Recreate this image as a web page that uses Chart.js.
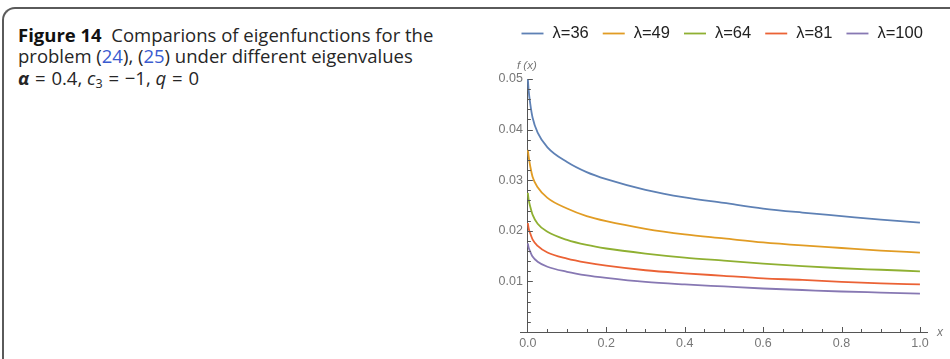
<!DOCTYPE html>
<html>
<head>
<meta charset="utf-8">
<script src="https://cdn.jsdelivr.net/npm/chart.js@4.4.1/dist/chart.umd.min.js"></script>
<style>
  html, body { margin: 0; padding: 0; background: #fff; }
  #wrap { position: relative; width: 950px; height: 359px; overflow: hidden; }
  #frame { position: absolute; left: 2px; top: 7px; width: 1000px; height: 420px;
           border-top: 2px solid #5a5a5a; border-left: 2px solid #5a5a5a; border-top-left-radius: 13px; }
  #cap { position: absolute; left: 18px; top: 23.5px; font-family: "Open Sans", sans-serif; font-size: 18.5px;
         line-height: 21.7px; color: #262626; white-space: nowrap; }
  #cap b.fig { font-weight: 700; color: #111; }
  #cap .l { color: #3a5bd0; }
  #cap sub { font-size: 12.5px; vertical-align: -3px; line-height: 0; }
  #cap .m { margin: 0 1px; }
  #chart { position: absolute; left: 0; top: 0; }
</style>
</head>
<body>
<div id="wrap">
  <div id="frame"></div>
  <div id="cap"><b class="fig">Figure 14</b>&nbsp; Comparions of eigenfunctions for the<br>problem (<span class="l">24</span>), (<span class="l">25</span>) under different eigenvalues<br><b><i>α</i></b><span class="m"> = </span>0.4, <i>c</i><sub>3</sub><span class="m"> = </span>−1, <i>q</i><span class="m"> = </span>0</div>
  <canvas id="chart" width="950" height="359"></canvas>
</div>
<script>
// ---- data ----
const xs      = [0, 0.002, 0.006, 0.012, 0.025, 0.05, 0.1, 0.15, 0.2, 0.3, 0.4, 0.5, 0.6, 0.7, 0.8, 0.9, 1.0];
const lam36   = [0.0500, 0.0478, 0.0452, 0.0424, 0.0394, 0.0365, 0.0336, 0.0316, 0.0302, 0.0281, 0.0266, 0.0255, 0.0244, 0.0236, 0.0229, 0.0222, 0.0216];
const lam49   = [0.0360, 0.0347, 0.0328, 0.0307, 0.0286, 0.0265, 0.0244, 0.0229, 0.0219, 0.0204, 0.0193, 0.0185, 0.0177, 0.0171, 0.0166, 0.0161, 0.0157];
const lam64   = [0.0275, 0.0262, 0.0248, 0.0232, 0.0214, 0.0198, 0.0182, 0.0172, 0.0165, 0.0155, 0.0147, 0.0141, 0.0135, 0.0130, 0.0126, 0.0123, 0.0120];
const lam81   = [0.0215, 0.0205, 0.0195, 0.0183, 0.0170, 0.0157, 0.0145, 0.0137, 0.0131, 0.0122, 0.0116, 0.0111, 0.0106, 0.0103, 0.0099, 0.0096, 0.0094];
const lam100  = [0.0175, 0.0167, 0.0159, 0.0149, 0.0139, 0.0129, 0.0119, 0.0112, 0.0107, 0.0099, 0.0094, 0.0090, 0.0086, 0.0083, 0.0080, 0.0078, 0.0076];
const seriesLabels = ["λ=36", "λ=49", "λ=64", "λ=81", "λ=100"];
const xTicks = [0, 0.2, 0.4, 0.6, 0.8, 1.0];
const yTicks = [0.01, 0.02, 0.03, 0.04, 0.05];

const colors = ["#5e81b5", "#e19c24", "#8fb032", "#eb6235", "#8778b3"];
const allSeries = [lam36, lam49, lam64, lam81, lam100];

const datasets = allSeries.map((ys, i) => ({
  label: seriesLabels[i],
  data: xs.map((x, j) => ({ x: x, y: ys[j] })),
  borderColor: colors[i],
  borderWidth: 1.8,
  pointRadius: 0,
  fill: false,
  cubicInterpolationMode: 'monotone'
}));

const TICK_FONT = { family: "'Liberation Sans', Arial, sans-serif", size: 12.5 };
const TICK_COLOR = "#777";
const AXIS_COLOR = "#555";

const axisDecor = {
  id: 'axisDecor',
  afterDraw(chart) {
    const ctx = chart.ctx;
    const xs_ = chart.scales.x, ys_ = chart.scales.y;
    const x0 = xs_.getPixelForValue(0), y0 = ys_.getPixelForValue(0);
    ctx.save();
    ctx.strokeStyle = AXIS_COLOR;
    ctx.lineWidth = 1;
    // x ticks (inward / upward)
    for (let k = 1; k <= 20; k++) {
      const v = k * 0.05;
      const major = xTicks.some(t => Math.abs(t - v) < 1e-9);
      const px = Math.round(xs_.getPixelForValue(v)) + 0.5;
      ctx.beginPath();
      ctx.moveTo(px, y0);
      ctx.lineTo(px, y0 - (major ? 5 : 3));
      ctx.stroke();
    }
    // y ticks (inward / rightward)
    for (let k = 1; k <= 25; k++) {
      const v = k * 0.002;
      const major = yTicks.some(t => Math.abs(t - v) < 1e-9);
      const py = Math.round(ys_.getPixelForValue(v)) + 0.5;
      ctx.beginPath();
      ctx.moveTo(x0, py);
      ctx.lineTo(x0 + (major ? 5 : 3), py);
      ctx.stroke();
    }
    // y tick labels from the library's y scale
    ctx.fillStyle = TICK_COLOR;
    ctx.font = "12.5px 'Liberation Sans', Arial, sans-serif";
    ctx.textAlign = 'right';
    ctx.textBaseline = 'middle';
    ys_.ticks.forEach(t => {
      ctx.fillText(Number(t.value).toFixed(2), x0 - 5, ys_.getPixelForValue(t.value));
    });
    // axis labels
    ctx.font = "italic 11.5px 'Liberation Sans', Arial, sans-serif";
    ctx.textAlign = 'center';
    ctx.fillText("f (x)", x0 - 1, 66);
    ctx.font = "italic 12px 'Liberation Sans', Arial, sans-serif";
    ctx.fillText("x", 940, 333);
    // legend
    ctx.font = "16.5px 'Liberation Sans', Arial, sans-serif";
    ctx.textAlign = 'left';
    ctx.textBaseline = 'middle';
    let lx = 521.5;
    const ly = 33.5;
    chart.data.datasets.forEach((ds) => {
      ctx.strokeStyle = ds.borderColor;
      ctx.lineWidth = 1.8;
      ctx.beginPath();
      ctx.moveTo(lx, ly);
      ctx.lineTo(lx + 22, ly);
      ctx.stroke();
      ctx.fillStyle = "#222";
      ctx.fillText(ds.label, lx + 31, ly);
      lx += 31 + ctx.measureText(ds.label).width + 14;
    });
    ctx.restore();
  }
};

new Chart(document.getElementById('chart'), {
  type: 'line',
  data: { datasets },
  plugins: [axisDecor],
  options: {
    responsive: false,
    animation: false,
    devicePixelRatio: 1,
    layout: { padding: { left: 520, right: 23, top: 79, bottom: 27 } },
    plugins: { legend: { display: false }, tooltip: { enabled: false } },
    scales: {
      x: {
        type: 'linear',
        min: -0.02, max: 1.018,
        position: { y: 0 },
        grid: { display: false, drawTicks: false },
        border: { display: true, color: AXIS_COLOR, width: 1 },
        afterBuildTicks: (s) => { s.ticks = xTicks.map(v => ({ value: v })); },
        ticks: { font: TICK_FONT, color: TICK_COLOR, padding: 4, maxRotation: 0,
                 callback: (v) => Number(v).toFixed(1) }
      },
      y: {
        type: 'linear',
        min: 0, max: 0.05,
        position: { x: 0 },
        grid: { display: false, drawTicks: false },
        border: { display: true, color: AXIS_COLOR, width: 1 },
        afterBuildTicks: (s) => { s.ticks = yTicks.map(v => ({ value: v })); },
        ticks: { display: false }
      }
    }
  }
});
</script>
</body>
</html>
